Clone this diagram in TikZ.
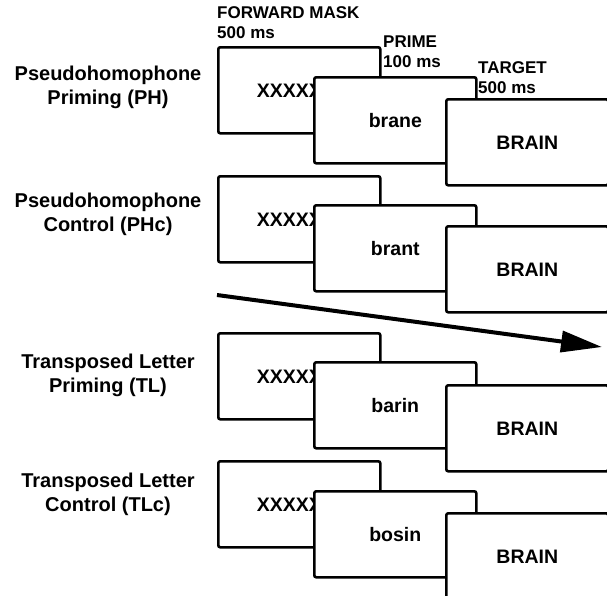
\documentclass[tikz,border=0pt]{standalone}
\usepackage{fontspec}
\setmainfont{Liberation Sans}
\usetikzlibrary{arrows.meta,positioning}
\tikzset
{
    screen/.style   = {rectangle, draw=black, fill=white, line width=2.6pt, rounded corners=2pt, minimum width=162pt, minimum height=86pt, anchor=north west, font=\fontsize{19.5}{23}\selectfont\bfseries},
    phase/.style    = {anchor=north west, align=left, inner sep=0pt, font=\fontsize{17}{20}\selectfont\bfseries},
    condition/.style = {align=center, inner sep=0pt, font=\fontsize{20}{24}\selectfont\bfseries},
    timeline/.style = {line width=4pt, -{Triangle[length=41pt,width=21pt]}}
}
\newcommand{\maskword}{XXXXX\rule{20pt}{0pt}}

\begin{document}
\begin{tikzpicture}[x=1pt,y=-1pt]
\useasboundingbox (0,0) rectangle (607,595);
% phase labels
\node [phase] at (217,6) (maskhead) {FORWARD MASK\\500 ms};
\node [phase] at (383,36) (primehead) {PRIME\\100 ms};
\node [phase] at (478,61) (targethead) {TARGET\\500 ms};
% PH
\node [condition] at (108,87) (ph) {Pseudohomophone\\Priming (PH)};
\node [screen] at (217,46) (mask1) {\maskword};
\node [screen] at (313,76) (prime1) {brane};
\node [screen] at (445,98) (target1) {BRAIN};
% PHc
\node [condition] at (108,214) (phc) {Pseudohomophone\\Control (PHc)};
\node [screen] at (217,175) (mask2) {\maskword};
\node [screen] at (313,204) (prime2) {brant};
\node [screen] at (445,225) (target2) {BRAIN};
% time
\coordinate (tstart) at (217,295);
\coordinate (tend) at (602,347);
\draw [timeline] (tstart) -- (tend);
% TL
\node [condition] at (108,375) (tl) {Transposed Letter\\Priming (TL)};
\node [screen] at (217,332) (mask3) {\maskword};
\node [screen] at (313,361) (prime3) {barin};
\node [screen] at (445,384) (target3) {BRAIN};
% TLc
\node [condition] at (108,494) (tlc) {Transposed Letter\\Control (TLc)};
\node [screen] at (217,460) (mask4) {\maskword};
\node [screen] at (313,490) (prime4) {bosin};
\node [screen] at (445,512) (target4) {BRAIN};
\end{tikzpicture}
\end{document}
